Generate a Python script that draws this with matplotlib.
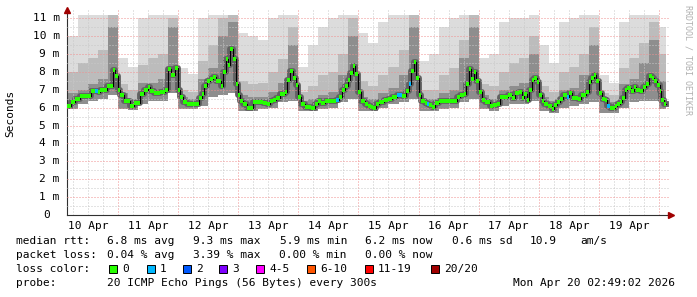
import matplotlib
matplotlib.use('Agg')
import matplotlib.pyplot as plt
from matplotlib.patches import Rectangle
from matplotlib.transforms import blended_transform_factory

# median rtt in ms; time in hours since 10 Apr 00:00
median_hours = [3.6, 5.2, 6.8, 8.8, 11.2, 13.2, 14.8, 16.0, 16.8, 18.4, 19.6, 21.2, 22.0, 22.8,
                24.0, 24.8, 26.4, 27.6, 28.8, 30.4, 31.6, 32.8, 34.4, 36.0, 36.8, 38.4, 39.6, 40.8, 42.8, 44.0, 45.2, 46.8,
                48.0, 48.8, 50.0, 51.6, 53.6, 55.2, 56.4, 57.6, 58.4, 59.6, 60.8, 62.0, 63.2, 64.0, 65.2, 66.0, 67.2, 68.0, 68.8, 70.0, 71.2,
                72.0, 72.8, 74.0, 75.6, 76.8, 78.0, 80.0, 82.0, 83.6, 84.8, 86.0, 87.2, 88.8, 90.0, 90.8, 91.6, 92.8, 94.0, 95.2,
                96.0, 97.2, 98.8, 100.0, 101.2, 102.8, 104.0, 105.2, 106.8, 108.4, 110.0, 111.2, 112.4, 113.6, 114.8, 116.0, 116.8, 118.0, 118.8,
                120.0, 121.2, 122.8, 124.0, 125.2, 126.0, 127.2, 128.4, 130.4, 132.0, 133.2, 135.2, 137.2, 138.8, 140.0, 140.8, 142.0, 142.8,
                144.0, 144.8, 146.4, 147.2, 148.0, 149.2, 150.4, 152.0, 153.2, 154.8, 156.4, 158.0, 159.2, 160.4, 162.0, 162.8, 164.0, 164.8, 166.0, 166.8,
                168.0, 169.2, 170.4, 172.4, 173.6, 175.2, 176.4, 178.4, 179.6, 181.2, 182.4, 184.0, 185.2, 186.0, 187.2, 188.0, 189.2, 190.0, 191.2,
                192.0, 193.2, 194.0, 195.6, 197.2, 198.0, 199.2, 200.4, 201.6, 203.2, 204.0, 205.2, 206.4, 207.6, 208.8, 210.8, 212.0, 212.8, 214.0, 214.8,
                216.0, 217.2, 218.4, 219.2, 220.4, 221.2, 222.4, 223.2, 224.4, 225.2, 226.4, 227.2, 228.8, 230.0, 230.8, 232.4, 233.6, 234.8, 236.0, 237.2, 238.0, 239.2,
                240.4, 240.8, 242.0]
median_ms = [6.1, 6.3, 6.5, 6.65, 6.65, 6.95, 6.95, 6.85, 7.0, 7.0, 7.2, 7.2, 8.1, 7.75,
             7.0, 6.7, 6.35, 6.35, 6.1, 6.25, 6.25, 6.75, 7.0, 7.15, 6.95, 6.8, 6.8, 6.85, 7.0, 8.15, 7.85, 8.2,
             7.0, 6.6, 6.3, 6.2, 6.2, 6.2, 6.55, 6.75, 7.2, 7.5, 7.6, 7.7, 7.5, 7.5, 7.2, 8.0, 8.7, 8.4, 9.3, 8.7, 7.3,
             6.7, 6.4, 6.2, 6.0, 6.0, 6.3, 6.3, 6.25, 6.2, 6.35, 6.45, 6.55, 6.75, 6.75, 6.85, 7.55, 8.05, 7.65, 7.25,
             6.6, 6.2, 6.05, 6.05, 6.0, 6.2, 6.35, 6.25, 6.35, 6.35, 6.35, 6.45, 6.6, 7.0, 7.2, 7.55, 7.95, 8.35, 7.9,
             6.85, 6.35, 6.2, 6.1, 6.05, 6.0, 6.2, 6.3, 6.45, 6.5, 6.6, 6.7, 6.65, 6.95, 7.3, 8.05, 8.55, 7.65,
             6.7, 6.35, 6.25, 6.2, 6.15, 6.05, 6.25, 6.35, 6.35, 6.4, 6.4, 6.4, 6.6, 6.7, 6.75, 7.35, 8.15, 7.6, 8.0, 7.5,
             6.9, 6.45, 6.3, 6.1, 6.15, 6.2, 6.6, 6.6, 6.7, 6.55, 6.8, 6.9, 6.55, 6.75, 6.45, 7.0, 7.55, 7.65, 7.45,
             6.7, 6.4, 6.2, 6.1, 5.9, 6.15, 6.3, 6.5, 6.7, 6.6, 6.8, 6.55, 6.55, 6.5, 6.7, 6.9, 7.45, 7.65, 7.85, 7.5,
             6.8, 6.5, 6.45, 6.1, 6.0, 6.0, 6.1, 6.2, 6.3, 6.55, 7.0, 7.1, 6.95, 7.15, 7.0, 6.95, 7.15, 7.35, 7.75, 7.65, 7.5, 7.25,
             6.95, 6.45, 6.2]
data_end = 242.8  # Mon Apr 20 02:49

# samples that lost 1 of 20 pings (drawn in the "1" colour)
loss1_hours = [14.8, 111.2, 135.2, 140.0, 147.2, 203.2, 219.2]

# smoke, in 4 hour slots starting at these hours
smoke_start = list(range(0, 244, 4))
smoke_top = [8.7, 10.0, 11.2, 11.2, 11.2, 11.2,
             8.8, 8.3, 11.0, 11.2, 11.2, 11.2,
             8.2, 7.9, 11.0, 11.2, 11.2, 11.2,
             10.2, 10.0, 9.8, 11.0, 11.2, 11.2,
             8.3, 9.5, 10.5, 11.0, 11.2, 11.2,
             10.2, 9.6, 10.8, 11.2, 11.2, 11.2,
             8.6, 9.0, 10.5, 11.0, 11.2, 11.2,
             8.8, 9.0, 10.8, 11.0, 11.0, 11.2,
             9.5, 8.5, 10.8, 11.0, 11.2, 11.2,
             7.8, 7.4, 10.8, 11.2, 11.2, 11.2,
             10.5]
smoke_mid = [7.0, 8.0, 8.5, 8.8, 9.2, 11.2,
             7.3, 7.0, 8.4, 8.8, 9.0, 11.0,
             7.0, 6.9, 8.6, 9.5, 11.0, 11.2,
             7.5, 7.3, 7.4, 8.0, 8.7, 10.5,
             6.9, 7.2, 7.8, 8.0, 9.0, 11.0,
             7.5, 7.2, 7.8, 8.3, 9.2, 11.2,
             7.0, 7.0, 7.8, 8.2, 9.8, 11.2,
             7.3, 7.2, 8.0, 8.5, 8.8, 10.0,
             7.2, 6.9, 8.0, 8.3, 9.0, 10.5,
             6.8, 6.7, 8.2, 8.8, 9.6, 10.8,
             9.0]
smoke_dark = [6.4, 6.8, 7.0, 7.3, 7.6, 10.5,
              6.8, 6.5, 7.4, 7.4, 7.6, 10.5,
              6.6, 6.5, 7.6, 8.2, 10.0, 10.8,
              6.7, 6.6, 6.6, 6.9, 7.4, 9.5,
              6.4, 6.5, 6.7, 6.9, 7.8, 10.0,
              6.6, 6.5, 6.8, 7.1, 7.8, 10.5,
              6.5, 6.5, 6.8, 7.0, 8.8, 10.5,
              6.7, 6.5, 7.0, 7.2, 7.4, 9.0,
              6.6, 6.4, 7.0, 7.1, 7.8, 9.5,
              6.4, 6.3, 7.3, 7.6, 8.5, 9.8,
              7.5]
smoke_lo = [5.85, 5.9, 6.2, 6.4, 6.5, 6.7,
            5.9, 5.85, 6.2, 6.4, 6.4, 6.8,
            5.9, 5.9, 6.1, 6.6, 6.7, 6.8,
            5.8, 5.8, 5.9, 6.0, 6.3, 6.4,
            5.8, 5.8, 5.9, 6.0, 6.3, 6.5,
            5.8, 5.8, 6.0, 6.2, 6.3, 6.5,
            5.8, 5.8, 5.9, 6.0, 6.3, 6.5,
            5.9, 5.8, 6.1, 6.2, 6.2, 6.4,
            5.8, 5.7, 6.0, 6.1, 6.2, 6.3,
            5.7, 5.7, 6.0, 6.3, 6.4, 6.4,
            5.9]

day_noons = [12, 36, 60, 84, 108, 132, 156, 180, 204, 228]
day_labels = ['10 Apr', '11 Apr', '12 Apr', '13 Apr', '14 Apr',
              '15 Apr', '16 Apr', '17 Apr', '18 Apr', '19 Apr']

loss_labels = ['0', '1', '2', '3', '4-5', '6-10', '11-19', '20/20']
loss_colors = ['#26ff00', '#00b8ff', '#0059ff', '#7e00ff', '#ff00ff', '#ff5500', '#ff0000', '#a00000']

W, H = 697, 297
mono = 'DejaVu Sans Mono'

fig = plt.figure(figsize=(W / 100, H / 100), dpi=100)
ax = fig.add_axes([67 / W, (H - 215) / H, (669 - 67) / W, (215 - 10) / H])
ax.set_xlim(3.63, 244.0)
ax.set_ylim(0, 11.46)

# smoke
edges = smoke_start + [data_end]
ax.stairs(smoke_top, edges, baseline=smoke_lo, fill=True, color='#dcdcdc', lw=0, zorder=1)
ax.stairs(smoke_mid, edges, baseline=smoke_lo, fill=True, color='#bcbcbc', lw=0, zorder=1.1)
ax.stairs(smoke_dark, edges, baseline=smoke_lo, fill=True, color='#8e8e8e', lw=0, zorder=1.2)
# the densest pings sit right round the median
ax.step(median_hours + [data_end], median_ms + [median_ms[-1]], where='post',
        color='#626262', lw=4.2, zorder=1.3)

# grid (rrdtool draws it over the smoke)
dots = (0, (1, 2))
for h in range(6, 244, 6):
    ax.axvline(h, color='#c8c8c8' if h % 24 else '#f09090', lw=0.72, ls=dots, zorder=3)
for i in range(1, 23):
    ax.axhline(i / 2, color='#f09090' if i % 2 == 0 else '#c8c8c8', lw=0.72, ls=dots, zorder=3)

# median line: black steps, coloured horizontal pieces
ax.step(median_hours + [data_end], median_ms + [median_ms[-1]], where='post',
        color='black', lw=0.8, zorder=4)
seg_end = median_hours[1:] + [data_end]
seg_col = [loss_colors[1] if h in loss1_hours else loss_colors[0] for h in median_hours]
ax.hlines(median_ms, median_hours, seg_end, colors=seg_col, lw=2.9, zorder=5)

# axes
for s in ['top', 'right']:
    ax.spines[s].set_visible(False)
for s in ['left', 'bottom']:
    ax.spines[s].set_color('#303030')
    ax.spines[s].set_linewidth(0.8)
ax.plot([0], [1], marker='^', ms=4, color='#a00000', transform=ax.transAxes, clip_on=False, zorder=6)
ax.plot([1.004], [0], marker='>', ms=4, color='#a00000', transform=ax.transAxes, clip_on=False, zorder=6)

ax.set_yticks([])
ax.set_xticks(day_noons)
ax.set_xticklabels(day_labels, family=mono, fontsize=8)
ax.tick_params(axis='x', length=0, pad=4)

ytr = blended_transform_factory(fig.transFigure, ax.transData)
for v in range(1, 12):
    ax.text(59.5 / W, v, f'{v} m', transform=ytr, ha='right', va='center', family=mono, fontsize=8)
ax.text(49.5 / W, 0, '0', transform=ytr, ha='right', va='center', family=mono, fontsize=8)

fig.text(10 / W, 1 - 113 / H, 'Seconds', rotation=90, ha='center', va='center', family=mono, fontsize=8)
fig.text(688 / W, 1 - 60 / H, 'RRDTOOL / TOBI OETIKER', rotation=270, ha='center', va='center',
         family=mono, fontsize=6, color='#b0b0b0')

# legend block
def row(y, items):
    for x, s in items:
        fig.text(x / W, 1 - y / H, s, ha='left', va='center', family=mono, fontsize=8)

row(241, [(16, 'median rtt:'), (107, '6.8 ms avg'), (193, '9.3 ms max'), (280, '5.9 ms min'),
          (365, '6.2 ms now'), (452, '0.6 ms sd'), (530, '10.9'), (580, 'am/s')])
row(255, [(16, 'packet loss:'), (107, '0.04 % avg'), (193, '3.39 % max'), (279, '0.00 % min'),
          (365, '0.00 % now')])
row(269, [(16, 'loss color:')])
box_x = [109, 147, 183, 219, 256, 307, 365, 431]
for bx, lab, col in zip(box_x, loss_labels, loss_colors):
    fig.patches.append(Rectangle((bx / W, (H - 273) / H), 8 / W, 8 / H, transform=fig.transFigure,
                                 facecolor=col, edgecolor='black', lw=0.7))
    fig.text((bx + 13) / W, 1 - 269 / H, lab, ha='left', va='center', family=mono, fontsize=8)
row(283, [(16, 'probe:'), (107, '20 ICMP Echo Pings (56 Bytes) every 300s'),
          (513, 'Mon Apr 20 02:49:02 2026')])

fig.savefig('out.png', dpi=100)
